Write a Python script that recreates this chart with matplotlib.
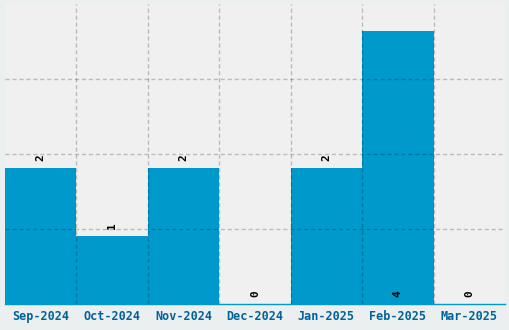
import matplotlib
matplotlib.use("Agg")
import matplotlib.pyplot as plt

categories = ["Sep-2024", "Oct-2024", "Nov-2024", "Dec-2024", "Jan-2025", "Feb-2025", "Mar-2025"]
values = [2, 1, 2, 0, 2, 4, 0]

bar_color = "#0099cc"
fig = plt.figure(figsize=(5.1, 3.3), dpi=100)
fig.patch.set_facecolor("#eceff0")
ax = fig.add_axes([5/510, 26/330, 500/510, 300/330])
ax.set_facecolor("#f0f0f0")

x = list(range(len(categories)))
ax.bar(x, values, width=1.0, color=bar_color, zorder=1)
ax.set_xlim(-0.5, len(categories) - 0.5)
ax.set_ylim(0, 4.4)

grid_kw = dict(color="black", alpha=0.22, linestyle=(0, (3, 2)), linewidth=1, zorder=2)
ax.set_yticks([1.1, 2.2, 3.3])
ax.set_yticklabels([])
ax.tick_params(axis="y", length=0)
ax.set_xticks([i + 0.5 for i in x[:-1]], minor=True)
ax.grid(True, which="minor", axis="x", **grid_kw)
ax.grid(True, which="major", axis="y", **grid_kw)
ax.set_axisbelow(False)
ax.tick_params(axis="x", which="minor", length=0)

ax.set_xticks(x)
ax.set_xticklabels(categories, fontfamily="DejaVu Sans Mono", fontweight="bold",
                   fontsize=8.5, color="#00629b")
ax.tick_params(axis="x", which="major", length=0, pad=4)

for s in ["top", "left", "right"]:
    ax.spines[s].set_visible(False)
ax.spines["bottom"].set_color(bar_color)
ax.spines["bottom"].set_linewidth(1)

for i, v in enumerate(values):
    y = 0.1 if v == max(values) else v + 0.1
    ax.text(i, y, str(v), rotation=90, ha="center", va="bottom", fontsize=8,
            fontfamily="DejaVu Sans Mono", fontweight="bold", color="black", zorder=3)

fig.savefig("out.png", dpi=100, facecolor=fig.get_facecolor())
